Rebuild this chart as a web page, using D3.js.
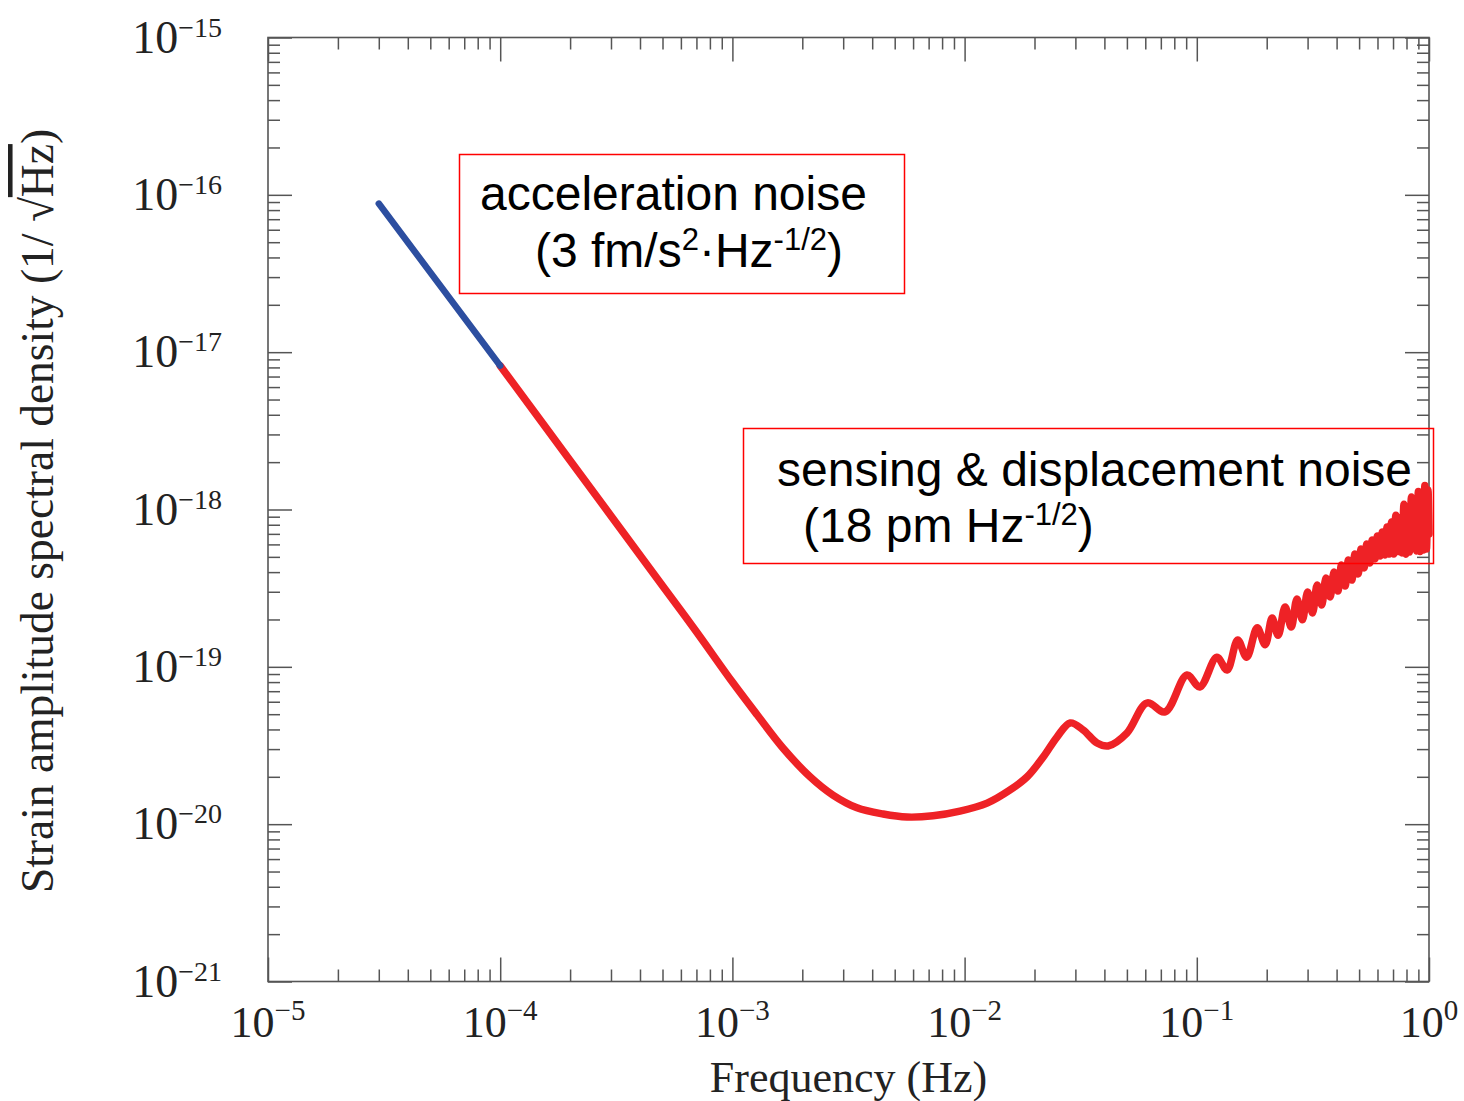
<!DOCTYPE html>
<html>
<head>
<meta charset="utf-8">
<script src="https://d3js.org/d3.v7.min.js"></script>
<style>
    body { margin: 0; background: #fff; }
    svg { display: block; }
</style>
</head>
<body>
<svg width="1464" height="1101"></svg>
<script>
// tick decades (exponents of ten)
const xDecades = [-5, -4, -3, -2, -1, 0];
const yDecades = [-21, -20, -19, -18, -17, -16, -15];

// acceleration noise branch (blue)
const accelFreq = [3.0e-5, 1e-4];
const accelStrain = [8.8e-17, 8.2e-18];

// sensing / displacement branch (red)
const sensFreq = [
    1e-4, 2e-4, 5e-4, 7e-4, 1e-3, 1.28e-3, 1.65e-3, 2.16e-3, 2.71e-3, 3.44e-3, 4.46e-3,
    5.65e-3, 7.31e-3, 9.55e-3, 1.25e-2, 1.57e-2, 1.86e-2, 2.18e-2, 2.5e-2, 2.85e-2, 3.24e-2,
    3.72e-2, 4.15e-2, 5.0e-2, 6.1e-2, 7.3e-2, 9.07e-2, 0.103, 0.122, 0.135, 0.150,
    0.164, 0.182, 0.197, 0.211, 0.224, 0.240, 0.255, 0.27, 0.285, 0.30,
    0.315, 0.33, 0.345, 0.36, 0.375, 0.39, 0.405, 0.42, 0.435, 0.45,
    0.465, 0.48, 0.495, 0.51, 0.525, 0.54, 0.555, 0.57, 0.585, 0.60,
    0.615, 0.63, 0.645, 0.66, 0.675, 0.69, 0.705, 0.72, 0.735, 0.75,
    0.765, 0.78, 0.795, 0.81, 0.825, 0.84, 0.855, 0.87, 0.885, 0.90,
    0.915, 0.93, 0.945, 0.96, 0.975, 0.99, 1.0
];
const sensStrain = [
    8.2e-18, 2.05e-18, 3.28e-19, 1.67e-19, 8.0e-20, 4.94e-20, 3.05e-20, 2.0e-20, 1.53e-20, 1.27e-20, 1.16e-20,
    1.11e-20, 1.13e-20, 1.21e-20, 1.36e-20, 1.65e-20, 2.0e-20, 2.67e-20, 3.58e-20, 4.4e-20, 3.97e-20,
    3.28e-20, 3.14e-20, 3.79e-20, 5.89e-20, 5.17e-20, 8.87e-20, 7.45e-20, 1.15e-19, 9.55e-20, 1.48e-19,
    1.15e-19, 1.77e-19, 1.38e-19, 2.04e-19, 1.59e-19, 2.4e-19, 1.79e-19, 2.7e-19, 1.99e-19, 2.99e-19,
    2.2e-19, 3.31e-19, 2.47e-19, 3.67e-19, 2.78e-19, 4.01e-19, 3.03e-19, 4.44e-19, 3.26e-19, 4.78e-19,
    3.56e-19, 5.21e-19, 3.89e-19, 5.61e-19, 4.25e-19, 6.04e-19, 4.57e-19, 6.4e-19, 4.85e-19, 6.79e-19,
    5.06e-19, 7.19e-19, 5.14e-19, 7.74e-19, 5.21e-19, 8.33e-19, 5.21e-19, 9.2e-19, 5.4e-19, 8.9e-19,
    5.29e-19, 1.08e-18, 5.2e-19, 9.8e-19, 5.37e-19, 1.2e-18, 5.7e-19, 1.1e-18, 5.45e-19, 1.3e-18,
    5.4e-19, 1.22e-18, 5.53e-19, 1.42e-18, 5.61e-19, 1.33e-18, 7.0e-19
];

const accelLabel = ["acceleration noise", "(3 fm/s", "2", "\u00b7Hz", "-1/2", ")"];
const sensLabel = ["sensing & displacement noise", "(18 pm Hz", "-1/2", ")"];

let svg = d3.select("svg"),
    plotLeft = 268, plotRight = 1429, plotTop = 37.5, plotBottom = 981.5,
    axisColor = "#555",
    serif = "'Liberation Serif', 'Times New Roman', serif",
    sans = "'Liberation Sans', Arial, sans-serif";

let x = d3.scaleLog().domain([1e-5, 1]).range([plotLeft, plotRight]);
let y = d3.scaleLog().domain([1e-21, 1e-15]).range([plotBottom, plotTop]);

function isDecade(v) {
    let l = Math.log10(v);
    return Math.abs(l - Math.round(l)) < 1e-6;
}

let xMajor = xDecades.map(e => Math.pow(10, e)),
    yMajor = yDecades.map(e => Math.pow(10, e)),
    xMinor = x.ticks().filter(v => !isDecade(v)),
    yMinor = y.ticks().filter(v => !isDecade(v));

function tickRow(axisFn, scale, vals, size, tr) {
    svg.append("g")
        .attr("transform", tr)
        .call(axisFn(scale).tickValues(vals).tickSize(size).tickFormat(""))
        .call(g => g.select(".domain").remove())
        .call(g => g.selectAll("line").attr("stroke", axisColor).attr("stroke-width", 1.5));
}

tickRow(d3.axisBottom, x, xMajor, -24, `translate(0,${plotBottom})`);
tickRow(d3.axisBottom, x, xMinor, -12, `translate(0,${plotBottom})`);
tickRow(d3.axisTop, x, xMajor, -24, `translate(0,${plotTop})`);
tickRow(d3.axisTop, x, xMinor, -12, `translate(0,${plotTop})`);
tickRow(d3.axisLeft, y, yMajor, -24, `translate(${plotLeft},0)`);
tickRow(d3.axisLeft, y, yMinor, -12, `translate(${plotLeft},0)`);
tickRow(d3.axisRight, y, yMajor, -24, `translate(${plotRight},0)`);
tickRow(d3.axisRight, y, yMinor, -12, `translate(${plotRight},0)`);

svg.append("rect")
    .attr("x", plotLeft).attr("y", plotTop)
    .attr("width", plotRight - plotLeft).attr("height", plotBottom - plotTop)
    .attr("fill", "none").attr("stroke", axisColor).attr("stroke-width", 1.6);

// tick labels
let xl = svg.append("g").selectAll("text").data(xDecades).enter().append("text")
    .attr("x", d => x(Math.pow(10, d)))
    .attr("y", plotBottom + 55)
    .attr("text-anchor", "middle")
    .style("font-family", serif).style("font-size", "44px").attr("fill", "#222");
xl.append("tspan").text("10");
xl.append("tspan").attr("dy", -17).style("font-size", "29px").text(d => d < 0 ? "\u2212" + (-d) : d);

let yl = svg.append("g").selectAll("text").data(yDecades).enter().append("text")
    .attr("x", 222)
    .attr("y", d => y(Math.pow(10, d)) + 15)
    .attr("text-anchor", "end")
    .style("font-family", serif).style("font-size", "46px").attr("fill", "#222");
yl.append("tspan").text("10");
yl.append("tspan").attr("dy", -16).style("font-size", "28px").text(d => "\u2212" + (-d));

// axis titles
svg.append("text")
    .attr("x", (plotLeft + plotRight) / 2).attr("y", 1092)
    .attr("text-anchor", "middle")
    .style("font-family", serif).style("font-size", "44px").attr("fill", "#222")
    .text("Frequency (Hz)");

let yt = svg.append("text")
    .attr("transform", "translate(53,511) rotate(-90)")
    .attr("text-anchor", "middle")
    .style("font-family", serif).style("font-size", "45.5px").attr("fill", "#222");
yt.append("tspan").text("Strain amplitude spectral density (1/ \u221a");
yt.append("tspan").style("text-decoration", "overline").text("Hz");
yt.append("tspan").text(")");

// curves
let line = d3.line()
    .x(d => x(d[0]))
    .y(d => y(d[1]))
    .curve(d3.curveCatmullRom.alpha(0.5));

svg.append("path")
    .datum(d3.zip(sensFreq, sensStrain))
    .attr("d", line)
    .attr("fill", "none")
    .attr("stroke", "#ee2226")
    .attr("stroke-width", 7.5)
    .attr("stroke-linejoin", "round")
    .attr("stroke-linecap", "round");

svg.append("path")
    .datum(d3.zip(accelFreq, accelStrain))
    .attr("d", line)
    .attr("fill", "none")
    .attr("stroke", "#2c4ea0")
    .attr("stroke-width", 6.5)
    .attr("stroke-linecap", "round");

// annotation boxes
svg.append("rect")
    .attr("x", 459.5).attr("y", 154.5).attr("width", 445).attr("height", 139)
    .attr("fill", "none").attr("stroke", "#ff0000").attr("stroke-width", 1.5);

svg.append("text")
    .attr("x", 480).attr("y", 210)
    .style("font-family", sans).style("font-size", "48px")
    .text(accelLabel[0]);

let a2 = svg.append("text")
    .attr("x", 535).attr("y", 267)
    .style("font-family", sans).style("font-size", "48px");
a2.append("tspan").text(accelLabel[1]);
a2.append("tspan").attr("dy", -17).style("font-size", "31px").text(accelLabel[2]);
a2.append("tspan").attr("dy", 17).text(accelLabel[3]);
a2.append("tspan").attr("dy", -17).style("font-size", "31px").text(accelLabel[4]);
a2.append("tspan").attr("dy", 17).text(accelLabel[5]);

svg.append("rect")
    .attr("x", 743.5).attr("y", 428.5).attr("width", 690).attr("height", 135)
    .attr("fill", "none").attr("stroke", "#ff0000").attr("stroke-width", 1.5);

svg.append("text")
    .attr("x", 777).attr("y", 486)
    .style("font-family", sans).style("font-size", "48px")
    .text(sensLabel[0]);

let s2 = svg.append("text")
    .attr("x", 803).attr("y", 542)
    .style("font-family", sans).style("font-size", "48px");
s2.append("tspan").text(sensLabel[1]);
s2.append("tspan").attr("dy", -17).style("font-size", "31px").text(sensLabel[2]);
s2.append("tspan").attr("dy", 17).text(sensLabel[3]);
</script>
</body>
</html>
